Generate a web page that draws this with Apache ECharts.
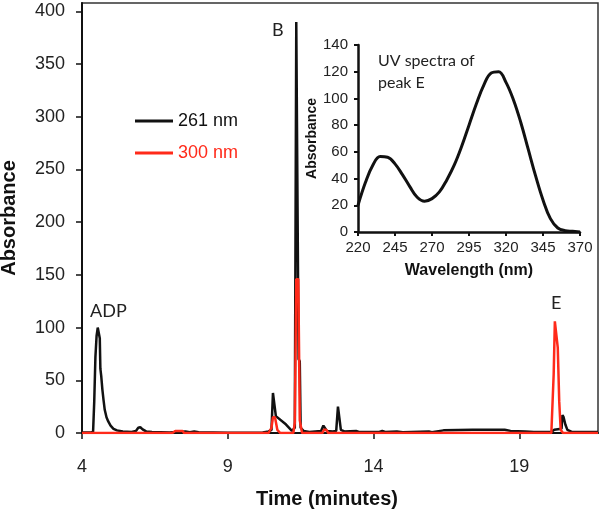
<!DOCTYPE html>
<html>
<head>
<meta charset="utf-8">
<script src="https://cdn.jsdelivr.net/npm/echarts@6/dist/echarts.min.js"></script>
<style>html,body{margin:0;padding:0;background:#fff}#c{width:600px;height:510px}</style>
</head>
<body>
<div id="c"></div>
<script>
// Chromatogram, 261 nm (time in minutes, absorbance)
var time261 = [4.0,4.3,4.38,4.42,4.46,4.5,4.54,4.58,4.61,4.63,4.66,4.7,4.74,4.78,4.84,4.9,4.98,5.08,5.2,5.4,5.7,5.85,5.93,6.0,6.08,6.2,6.4,7.0,7.55,7.7,7.85,8.0,9.0,10.2,10.4,10.5,10.55,10.6,10.65,10.7,11.0,11.2,11.3,11.35,11.4,11.43,11.47,11.5,11.6,11.8,12.2,12.28,12.33,12.4,12.6,12.72,12.78,12.83,12.88,13.0,13.4,13.5,14.2,14.3,14.4,14.8,15.0,15.9,16.0,16.4,17.4,18.5,18.7,19.2,19.5,20.1,20.2,20.45,20.48,20.52,20.58,20.65,20.8,21.7];
var abs261  = [0.5,0.5,1,30,72,92,100,99,90,61,54,41,31,22,15,11,7,4,2.5,1.5,1,2,5,5.5,3.5,1.5,1,0.5,1.5,0.8,1.5,0.8,0.3,0.5,1.5,3,38,38,16,15,8,2,5,390,390,70,68,5,2,1,2,7,7,2,1.5,2,25,25,3,1.5,2,1,1,2,1,1.5,0.8,1.5,0.8,2.5,3,3,2,1.5,1,1,3,4,17,15,8,3,1,1];
// Chromatogram, 300 nm
var time300 = [4.0,7.1,7.2,7.45,7.5,10.4,10.5,10.55,10.62,10.7,10.8,11.25,11.3,11.35,11.42,11.47,11.55,12.25,12.3,12.38,12.45,20.1,20.18,20.22,20.27,20.32,20.37,20.42,20.5,21.7];
var abs300  = [0,0,2,2,0,0,5,15,15,3,0,0,10,146,146,12,0,0,3,3,0,0,56,106,105,81,30,3,0,0];
// Inset: UV spectrum of peak E
var wavelength = [220,225,230,235,240,245,250,255,260,265,270,275,280,285,290,295,300,305,310,315,320,325,330,335,340,345,350,355,360,365,370];
var uvAbs      = [20,37,50,56.5,56,51,43,34,26,23,25,30,39,50,64,80,96,110,119,120,112,99,82,62,42,24,10,3,1,0.5,0];
// Tick labels / names
var seriesNames = ['261 nm','300 nm'];
var peakLabels = ['ADP','B','E'];

function pairs(xs, ys){ return xs.map(function(x,i){ return [x, ys[i]]; }); }

var RED = '#ff2a1a';
var chart = echarts.init(document.getElementById('c'), null, {renderer:'canvas'});
var font = '"Liberation Sans", Arial, sans-serif';
var annFont = 'Lato, "Open Sans", sans-serif';
chart.setOption({
  animation: false,
  backgroundColor: '#fff',
  textStyle: {fontFamily: font},
  grid: [
    {left: 82, right: 2, top: 3, bottom: 77, show: true, borderColor: '#333', borderWidth: 1.5, backgroundColor: 'transparent', containLabel: false, outerBoundsMode: 'none'},
    {left: 358, top: 45, width: 222, height: 187, show: false, containLabel: false, outerBoundsMode: 'none'}
  ],
  legend: {
    orient: 'vertical', left: 130, top: 107, itemWidth: 38, itemHeight: 3, itemGap: 14,
    icon: 'rect',
    textStyle: {fontSize: 18, fontFamily: font, padding: [0,0,0,0]},
    data: [
      {name: seriesNames[0], textStyle: {color: '#111'}},
      {name: seriesNames[1], textStyle: {color: RED}}
    ]
  },
  xAxis: [
    {gridIndex: 0, type: 'value', min: 4, max: 21.7, interval: 5,
     name: 'Time (minutes)', nameLocation: 'middle', nameGap: 56,
     nameTextStyle: {fontSize: 20, fontWeight: 'bold', color: '#111', padding: [0, 26, 0, 0]},
     axisLine: {show: true, lineStyle: {color: '#111', width: 2}},
     axisTick: {show: true, length: 6, inside: false, lineStyle: {color: '#111', width: 1.5}},
     axisLabel: {fontSize: 18, color: '#222', margin: 25, showMaxLabel: false},
     splitLine: {show: false}},
    {gridIndex: 1, type: 'value', min: 220, max: 370, interval: 25,
     name: 'Wavelength (nm)', nameLocation: 'middle', nameGap: 31,
     nameTextStyle: {fontSize: 16, fontWeight: 'bold', color: '#111'},
     axisLine: {show: true, lineStyle: {color: '#111', width: 2.5}},
     axisTick: {show: true, length: 4, lineStyle: {color: '#111', width: 2}},
     axisLabel: {fontSize: 15, color: '#222', margin: 8},
     splitLine: {show: false}}
  ],
  yAxis: [
    {gridIndex: 0, type: 'value', min: 0, max: 408, interval: 50,
     name: 'Absorbance', nameLocation: 'middle', nameGap: 63,
     nameTextStyle: {fontSize: 20, fontWeight: 'bold', color: '#111'},
     axisLine: {show: true, lineStyle: {color: '#111', width: 2}},
     axisTick: {show: true, length: 6, lineStyle: {color: '#111', width: 1.5}},
     axisLabel: {fontSize: 18, color: '#222', margin: 17, showMaxLabel: false},
     splitLine: {show: false}},
    {gridIndex: 1, type: 'value', min: 0, max: 140, interval: 20,
     name: 'Absorbance', nameLocation: 'middle', nameGap: 38,
     nameTextStyle: {fontSize: 14, fontWeight: 'bold', color: '#111'},
     axisLine: {show: true, lineStyle: {color: '#111', width: 2.5}},
     axisTick: {show: true, length: 4, lineStyle: {color: '#111', width: 2}},
     axisLabel: {fontSize: 15, color: '#222', margin: 10},
     splitLine: {show: false}}
  ],
  series: [
    {name: seriesNames[0], type: 'line', xAxisIndex: 0, yAxisIndex: 0, data: pairs(time261, abs261),
     showSymbol: false, symbol: 'none', color: '#111', lineStyle: {color: '#111', width: 2.5}, z: 2},
    {name: seriesNames[1], type: 'line', xAxisIndex: 0, yAxisIndex: 0, data: pairs(time300, abs300),
     showSymbol: false, symbol: 'none', color: RED, lineStyle: {color: RED, width: 2.5}, z: 3},
    {name: 'UV', type: 'line', xAxisIndex: 1, yAxisIndex: 1, data: pairs(wavelength, uvAbs),
     smooth: 0.4, showSymbol: false, symbol: 'none', lineStyle: {color: '#111', width: 3}, z: 4}
  ],
  graphic: [
    {type: 'text', left: 90, top: 302, style: {text: peakLabels[0], font: '18px ' + annFont, fill: '#222'}},
    {type: 'text', left: 272, top: 21, style: {text: peakLabels[1], font: '18px ' + annFont, fill: '#222'}},
    {type: 'text', left: 551, top: 294, style: {text: peakLabels[2], font: '18px ' + annFont, fill: '#222'}},
    {type: 'text', left: 378, top: 50, style: {text: 'UV spectra of\npeak E', font: '16px ' + annFont, lineHeight: 22, fill: '#222'}}
  ]
});
</script>
</body>
</html>
